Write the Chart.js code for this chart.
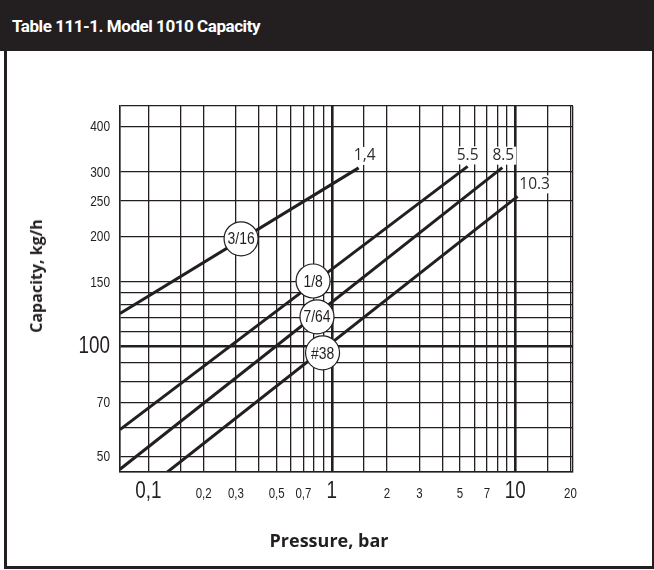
<!DOCTYPE html>
<html>
<head>
<meta charset="utf-8">
<script src="https://cdn.jsdelivr.net/npm/chart.js@4.4.1/dist/chart.umd.min.js"></script>
<style>
  body { margin: 0; background: #fff; }
  #page { position: relative; width: 654px; height: 570px; overflow: hidden; background: #fff; }
  .frame {
    position: absolute; left: 4px; top: 0; width: 650px; height: 569px; box-sizing: border-box;
    border-left: 3px solid #231f20; border-right: 2.5px solid #231f20; border-bottom: 3px solid #231f20;
  }
  .head {
    position: absolute; left: 0; top: 0; width: 654px; height: 51px; background: #231f20;
    color: #fff; font: 700 17px Roboto, sans-serif; letter-spacing: -0.45px;
    line-height: 51px; padding-left: 12px; box-sizing: border-box; padding-top: 1px;
  }
  canvas { position: absolute; left: 0; top: 0; }
  .axis-title { position: absolute; color: #231f20; font-family: "Open Sans", sans-serif; font-weight: 700; white-space: nowrap; }
  .ytitle { left: 36px; top: 276px; font-size: 16px; transform: translate(-50%, -50%) rotate(-90deg); }
  .xtitle { left: 329px; top: 540px; font-size: 18px; transform: translate(-50%, -50%); }
</style>
</head>
<body>
<div id="page">
  <div class="frame"></div>
  <div class="head">Table 111-1. Model 1010 Capacity</div>
  <canvas id="capacityChart" width="654" height="570"></canvas>
  <div class="axis-title ytitle">Capacity, kg/h</div>
  <div class="axis-title xtitle">Pressure, bar</div>
</div>
<script>
/* ── Data ────────────────────────────────────────────────────── */
const pressureTicks      = [0.1, 0.2, 0.3, 0.5, 0.7, 1, 2, 3, 5, 7, 10, 20];
const pressureTickLabels = ['0,1', '0,2', '0,3', '0,5', '0,7', '1', '2', '3', '5', '7', '10', '20'];
const pressureGrid       = [0.1, 0.15, 0.2, 0.3, 0.4, 0.5, 0.6, 0.7, 0.8, 0.9, 1, 1.5, 2, 3, 4, 5, 6, 7, 8, 9, 10, 15, 20];
const capacityTicks      = [50, 70, 100, 150, 200, 250, 300, 400];
const capacityTickLabels = ['50', '70', '100', '150', '200', '250', '300', '400'];
const capacityGrid       = [50, 60, 70, 80, 90, 100, 110, 120, 130, 140, 150, 200, 250, 300, 400];

const orificeSizes   = ['3/16', '1/8', '7/64', '#38'];
const startPressure  = [0.07, 0.07, 0.07, 0.127];
const startCapacity  = [123, 59.2, 46.1, 45.3];
const endPressure    = [1.4, 5.5, 8.5, 10.3];
const endCapacity    = [308, 311, 308.5, 257.4];
const endLabels      = ['1,4', '5.5', '8.5', '10.3'];
const markerPressure = [0.32, 0.79, 0.83, 0.89];
const markerCapacity = [197, 151, 120.5, 96];

/* ── Styling ─────────────────────────────────────────────────── */
const INK     = '#231f20';
const SANS    = '"Liberation Sans", Arial, sans-serif';
const SQUEEZE = 0.82;              // condensed look for the printed tick font
const X_RANGE = [0.07, 20.64];
const Y_RANGE = [45.3, 455];
const BIG_X   = [0.1, 1, 10];
const BIG_Y   = [100];
const END_LABEL_OFFSETS = [[6, -12], [0, -11], [1, -12], [17, -12]];

function gridWidth(ctx, heavy) {
  return ctx.tick && heavy.includes(ctx.tick.value) ? 2.6 : 1.3;
}

// condensed text: plain sans squeezed horizontally
function narrowText(ctx, txt, px, py, size, align, baseline) {
  ctx.save();
  ctx.translate(px, py);
  ctx.scale(SQUEEZE, 1);
  ctx.font = `${size}px ${SANS}`;
  ctx.textAlign = align;
  ctx.textBaseline = baseline;
  ctx.fillText(txt, 0, 0);
  ctx.restore();
}

/* ── Text drawn on top: circle names, end labels, tick labels ── */
const overlayText = {
  id: 'overlayText',
  afterDatasetsDraw(chart) {
    const { ctx, scales: { x, y } } = chart;
    const markerMeta = chart.getDatasetMeta(chart.data.datasets.length - 1);
    ctx.save();
    ctx.fillStyle = INK;
    markerMeta.data.forEach((pt, i) => narrowText(ctx, orificeSizes[i], pt.x, pt.y + 1, 17, 'center', 'middle'));

    ctx.font = '15.5px "Open Sans", sans-serif';
    ctx.textAlign = 'center';
    ctx.textBaseline = 'middle';
    endLabels.forEach((txt, i) => {
      const px = x.getPixelForValue(endPressure[i]) + END_LABEL_OFFSETS[i][0];
      const py = y.getPixelForValue(endCapacity[i]) + END_LABEL_OFFSETS[i][1];
      const w = ctx.measureText(txt).width;
      ctx.fillStyle = '#fff';
      ctx.fillRect(px - w / 2 - 2, py - 9, w + 4, 18);
      ctx.fillStyle = '#2b2b2b';
      ctx.fillText(txt, px, py);
    });
    ctx.restore();
  },
  afterDraw(chart) {
    const { ctx, scales: { x, y } } = chart;
    ctx.save();
    ctx.fillStyle = INK;
    pressureTicks.forEach((v, i) => {
      narrowText(ctx, pressureTickLabels[i], x.getPixelForValue(v), 498, BIG_X.includes(v) ? 23 : 14, 'center', 'alphabetic');
    });
    capacityTicks.forEach((v, i) => {
      narrowText(ctx, capacityTickLabels[i], 110, y.getPixelForValue(v) + 0.5, BIG_Y.includes(v) ? 23 : 14.5, 'right', 'middle');
    });
    ctx.restore();
  },
};

/* ── Chart ───────────────────────────────────────────────────── */
const lineSets = orificeSizes.map((name, i) => ({
  type: 'line',
  label: name,
  data: [
    { x: startPressure[i], y: startCapacity[i] },
    { x: endPressure[i],   y: endCapacity[i] },
  ],
  borderColor: INK,
  borderWidth: 3,
  pointRadius: 0,
  order: 2,
}));

const markerSet = {
  type: 'scatter',
  label: 'sizes',
  data: orificeSizes.map((_, i) => ({ x: markerPressure[i], y: markerCapacity[i] })),
  pointRadius: 17,
  pointBackgroundColor: '#fff',
  pointBorderColor: INK,
  pointBorderWidth: 1.2,
  order: 1,
};

new Chart(document.getElementById('capacityChart').getContext('2d'), {
  type: 'line',
  data: { datasets: [...lineSets, markerSet] },
  plugins: [overlayText],
  options: {
    responsive: false,
    animation: false,
    layout: { padding: { top: 106, right: 81, left: 0, bottom: 0 } },
    plugins: { legend: { display: false }, tooltip: { enabled: false } },
    scales: {
      x: {
        type: 'logarithmic',
        min: X_RANGE[0],
        max: X_RANGE[1],
        afterBuildTicks: s => { s.ticks = [X_RANGE[0], ...pressureGrid, X_RANGE[1]].map(v => ({ value: v })); },
        afterFit: s => { s.height = 98; },
        ticks: { display: false, autoSkip: false },
        grid: { drawTicks: false, color: INK, lineWidth: ctx => gridWidth(ctx, [1, 10]) },
        border: { color: INK, width: 1.5 },
      },
      y: {
        type: 'logarithmic',
        min: Y_RANGE[0],
        max: Y_RANGE[1],
        afterBuildTicks: s => { s.ticks = [Y_RANGE[0], ...capacityGrid, Y_RANGE[1]].map(v => ({ value: v })); },
        afterFit: s => { s.width = 120; },
        ticks: { display: false, autoSkip: false },
        grid: { drawTicks: false, color: INK, lineWidth: ctx => gridWidth(ctx, BIG_Y) },
        border: { color: INK, width: 1.5 },
      },
    },
  },
});
</script>
</body>
</html>
